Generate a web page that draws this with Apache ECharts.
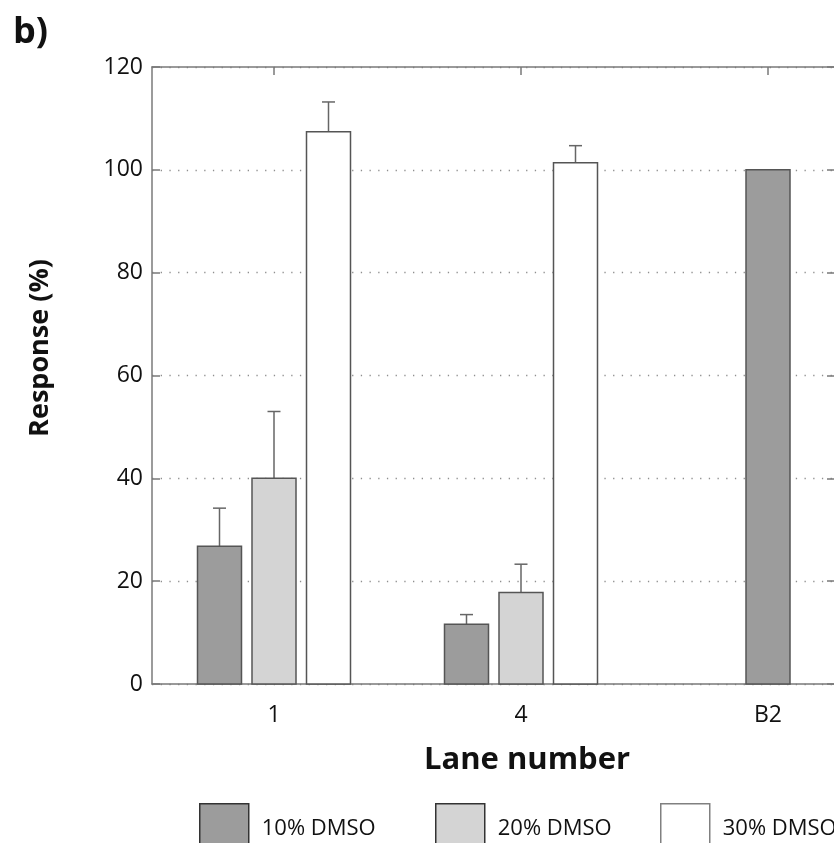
<!DOCTYPE html>
<html><head><meta charset="utf-8">
<script src="https://cdn.jsdelivr.net/npm/echarts@6/dist/echarts.min.js"></script>
<style>html,body{margin:0;padding:0;overflow:hidden;background:#fff}#c{width:840px;height:843px}</style>
</head><body><div id="c"></div>
<script>
// ---- data ----
const lanes = ['1', '4', 'B2'];
const seriesNames = ['10% DMSO', '20% DMSO', '30% DMSO'];
const dmso10 = [26.8, 11.6, 100];
const dmso20 = [40.0, 17.8, null];
const dmso30 = [107.4, 101.4, null];
const err10 = [7.4, 1.9, null];
const err20 = [13.0, 5.5, null];
const err30 = [5.8, 3.3, null];
const yTicks = [0, 20, 40, 60, 80, 100, 120];

// ---- styling ----
const FONT = '"Open Sans", "Noto Sans", sans-serif';
const values = [dmso10, dmso20, dmso30];
const errs = [err10, err20, err30];
const fills = ['#9c9c9c', '#d4d4d4', '#ffffff'];
const legendBorders = ['#333333', '#333333', '#808080'];
const BAR_W = 44, STEP = 54.5, CAP = 13;
const AXIS_C = '#7a7a7a';
const lanePos = lanes.map((l, i) => i + 1);

function makeRender(s) {
  return function (params, api) {
    const x = api.value(0), y = api.value(1), e = api.value(2);
    const i = Math.round(x) - 1;
    const present = values.map((v, k) => (v[i] != null ? k : -1)).filter(k => k >= 0);
    const off = (present.indexOf(s) - (present.length - 1) / 2) * STEP;
    const base = api.coord([x, 0]);
    const top = api.coord([x, y]);
    const cx = base[0] + off;
    const children = [];
    if (e > 0) {
      const et = api.coord([x, y + e]);
      children.push({ type: 'line', shape: { x1: cx, y1: top[1], x2: cx, y2: et[1] },
        style: { stroke: '#666', lineWidth: 1.5 } });
      children.push({ type: 'line', shape: { x1: cx - CAP / 2, y1: et[1], x2: cx + CAP / 2, y2: et[1] },
        style: { stroke: '#666', lineWidth: 1.5 } });
    }
    children.push({ type: 'rect', shape: { x: cx - BAR_W / 2, y: top[1], width: BAR_W, height: base[1] - top[1] },
      style: { fill: fills[s], stroke: '#555', lineWidth: 1.5 } });
    return { type: 'group', children };
  };
}

const series = seriesNames.map((name, s) => ({
  name, type: 'custom', clip: false,
  itemStyle: { color: fills[s], borderColor: legendBorders[s], borderWidth: 1.5 },
  renderItem: makeRender(s),
  data: lanes.map((l, i) => values[s][i] == null ? null : [lanePos[i], values[s][i], errs[s][i] == null ? 0 : errs[s][i]])
             .filter(d => d !== null)
}));

const xMin = 1 - 122 / 247, xMax = 3 + 67 / 247;
const axisLine = { show: true, onZero: false, lineStyle: { color: AXIS_C, width: 1.5 } };
const tickStyle = { color: AXIS_C, width: 1.5 };

const option = {
  animation: false,
  grid: { left: 152, top: 67, right: 5, bottom: 159 },
  xAxis: [
    { type: 'value', min: xMin, max: xMax, position: 'bottom',
      axisLine, splitLine: { show: false },
      axisTick: { show: true, inside: true, length: 8, customValues: lanePos, lineStyle: tickStyle },
      axisLabel: { customValues: lanePos, formatter: v => lanes[Math.round(v) - 1], fontSize: 23, color: '#111', margin: 20, fontFamily: FONT } },
    { type: 'value', min: xMin, max: xMax, position: 'top',
      axisLine, splitLine: { show: false },
      axisTick: { show: true, inside: true, length: 8, customValues: lanePos, lineStyle: tickStyle },
      axisLabel: { show: false } }
  ],
  yAxis: [
    { type: 'value', min: yTicks[0], max: yTicks[yTicks.length - 1], interval: yTicks[1] - yTicks[0],
      axisLine,
      axisTick: { show: true, inside: true, length: 8, lineStyle: tickStyle },
      axisLabel: { fontSize: 23, color: '#111', margin: 9, fontFamily: FONT },
      splitLine: { show: true, lineStyle: { color: '#8f8f8f', width: 1.3, type: [1.3, 7.4] } } },
    { type: 'value', position: 'right', min: yTicks[0], max: yTicks[yTicks.length - 1], interval: yTicks[1] - yTicks[0],
      axisLine,
      axisTick: { show: true, inside: true, length: 8, lineStyle: tickStyle },
      axisLabel: { show: false }, splitLine: { show: false } }
  ],
  legend: seriesNames.map((n, s) => ({
    data: [{ name: n, itemStyle: { color: fills[s], borderColor: legendBorders[s], borderWidth: 1.5 } }],
    left: [194, 430, 655][s], top: 798, icon: 'rect', itemWidth: 49, itemHeight: 50,
    selectedMode: false,
    textStyle: { fontSize: 22, color: '#111', fontFamily: FONT, padding: [0, 0, 0, 8] }
  })),
  graphic: [
    { type: 'text', left: 13, top: 15, style: { text: 'b)', font: 'bold 36px ' + FONT, fill: '#111' } },
    { type: 'text', x: 40, y: 348, rotation: Math.PI / 2,
      style: { text: 'Response (%)', font: 'bold 27px ' + FONT, fill: '#111', align: 'center', verticalAlign: 'middle' } },
    { type: 'text', x: 527, y: 760,
      style: { text: 'Lane number', font: 'bold 31px ' + FONT, fill: '#111', align: 'center', verticalAlign: 'middle' } }
  ],
  series
};

const chart = echarts.init(document.getElementById('c'), null, { renderer: 'canvas' });
chart.setOption(option);
</script>
</body></html>
